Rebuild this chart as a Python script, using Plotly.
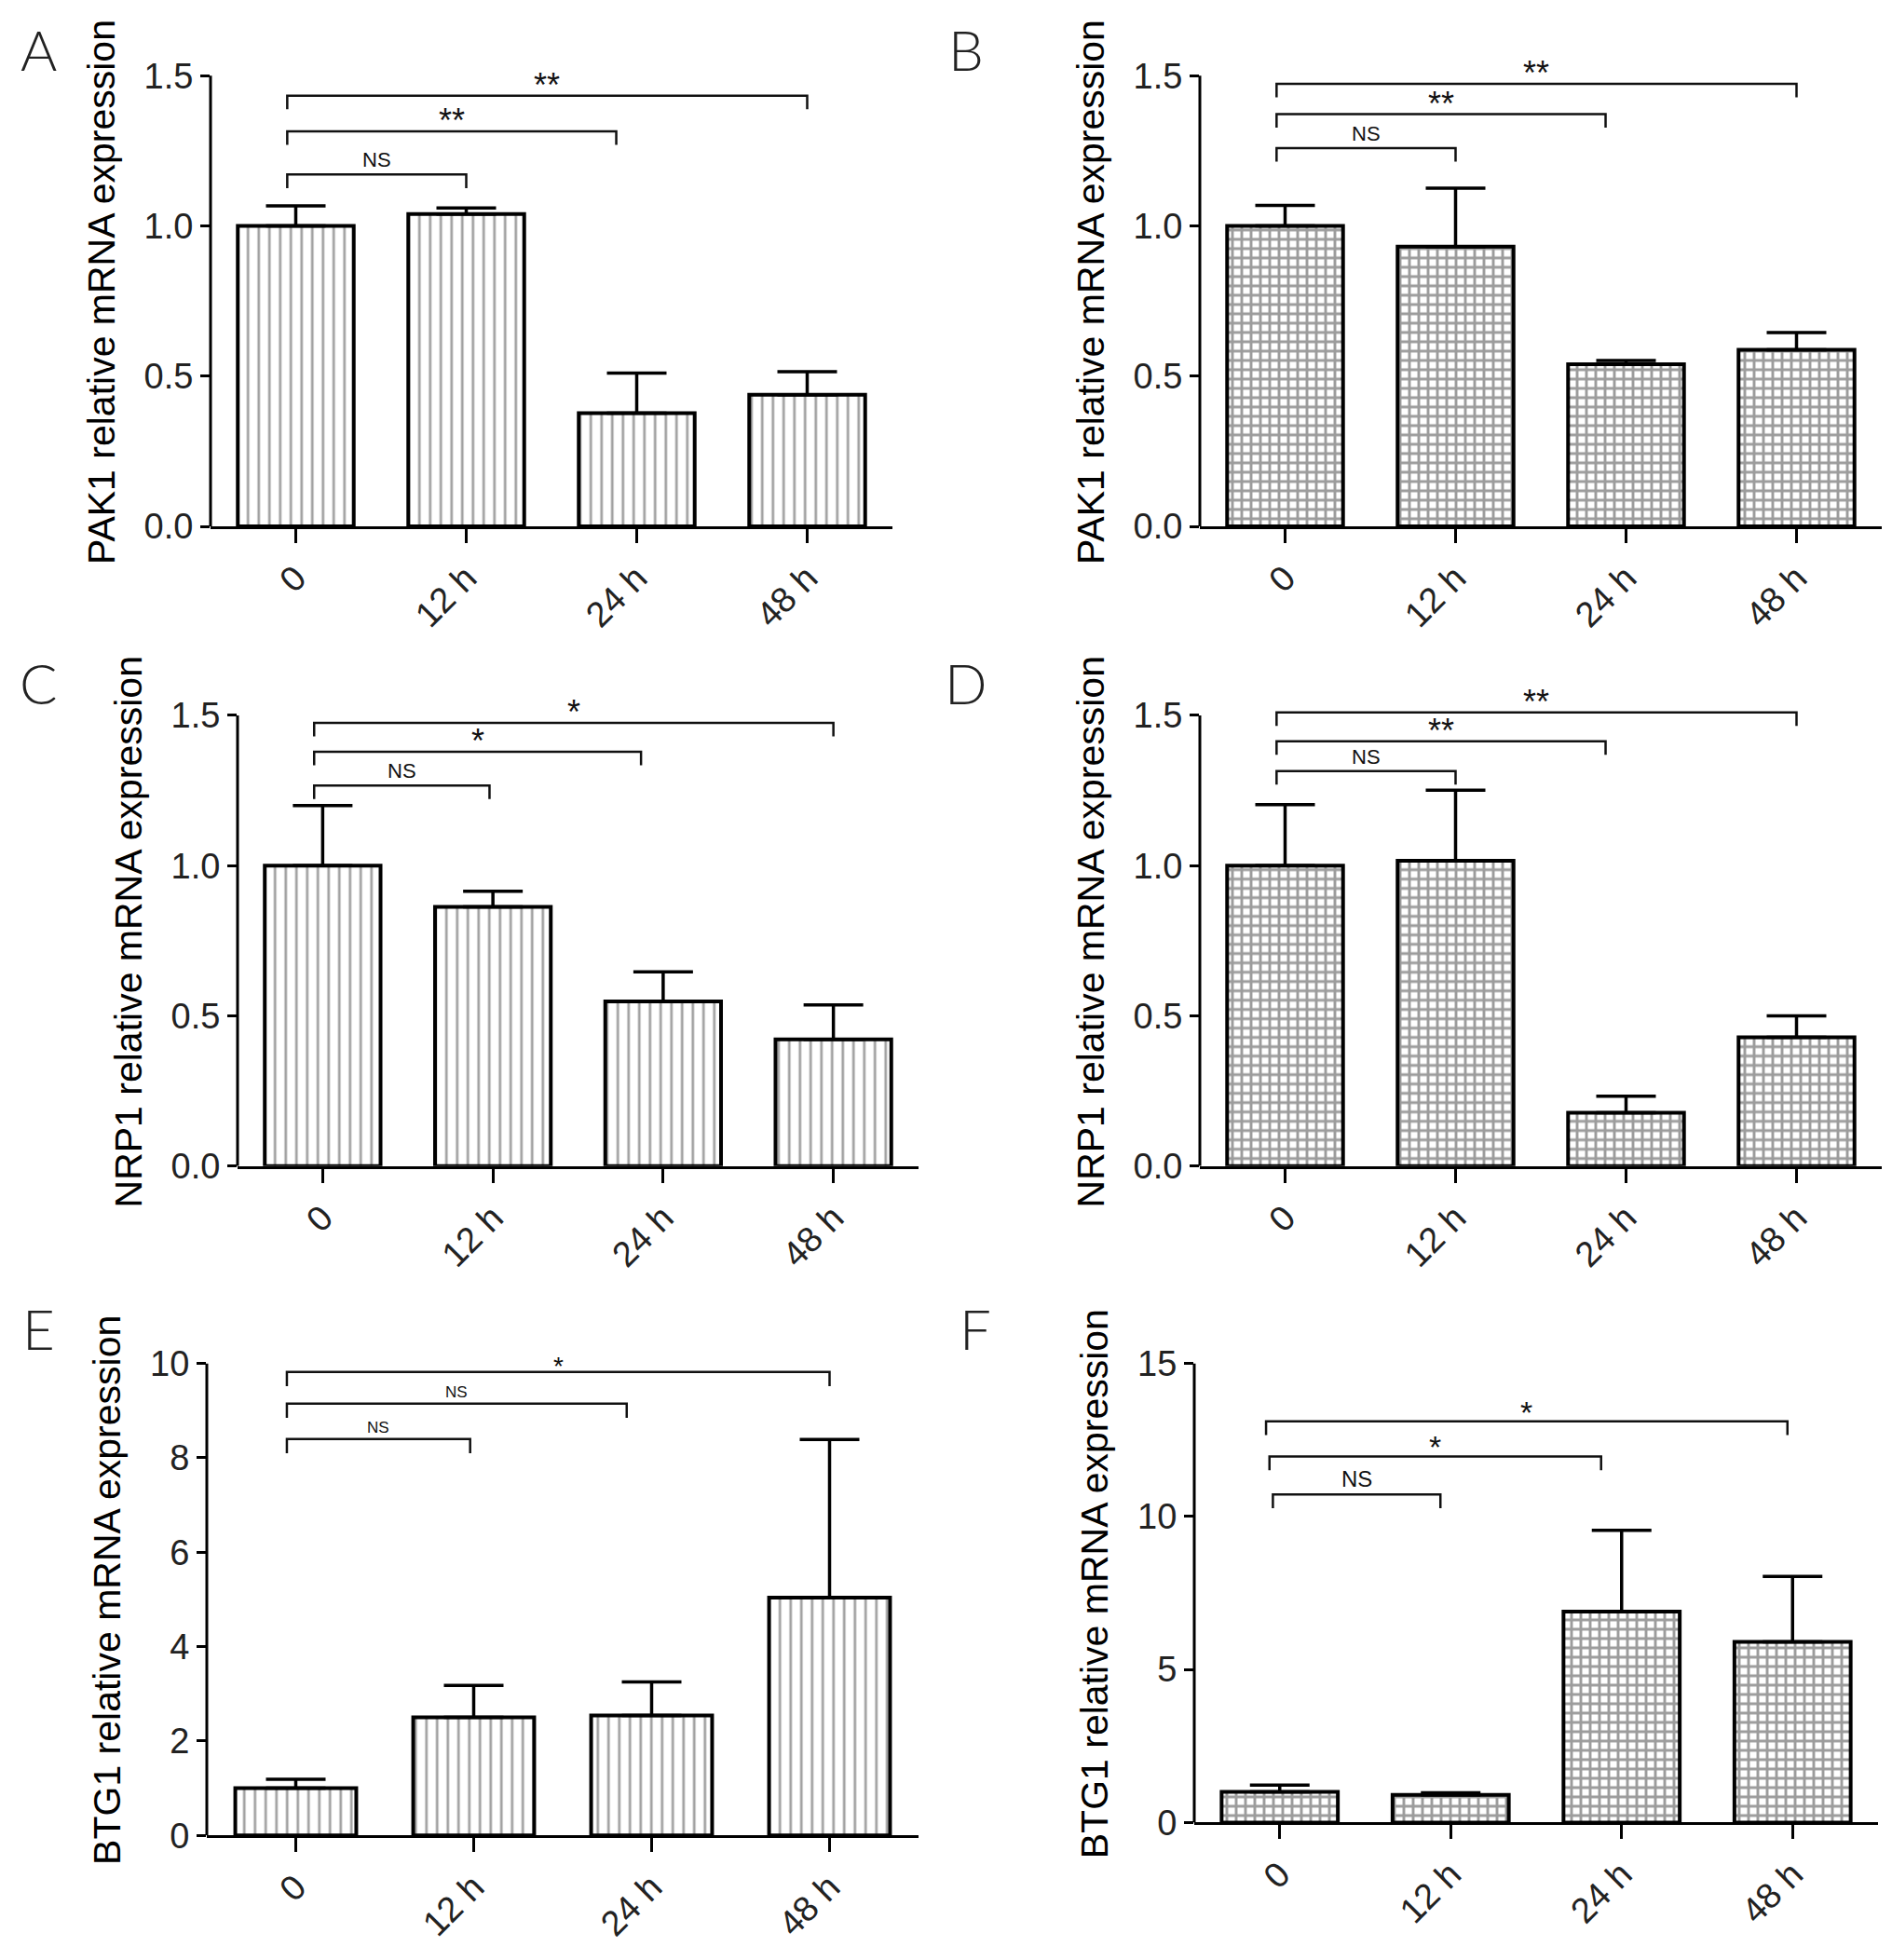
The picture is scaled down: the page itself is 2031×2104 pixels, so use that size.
import plotly.graph_objects as go

W, H = 2031, 2104

categories = ['0', '12 h', '24 h', '48 h']

# mean and upper SD
pak1_a = [1.00, 1.04, 0.377, 0.438]
pak1_a_sd = [0.067, 0.02, 0.133, 0.077]
pak1_b = [1.00, 0.931, 0.54, 0.588]
pak1_b_sd = [0.068, 0.195, 0.012, 0.057]
nrp1_c = [1.00, 0.863, 0.548, 0.422]
nrp1_c_sd = [0.20, 0.052, 0.099, 0.115]
nrp1_d = [1.00, 1.016, 0.178, 0.429]
nrp1_d_sd = [0.203, 0.235, 0.055, 0.071]
btg1_e = [1.00, 2.50, 2.54, 5.04]
btg1_e_sd = [0.19, 0.68, 0.71, 3.35]
btg1_f = [1.00, 0.905, 6.89, 5.90]
btg1_f_sd = [0.22, 0.065, 2.66, 2.14]

# significance brackets: (from, to, height, label)
sig_a = [(-0.05, 1.0, 1.171, 'NS'), (-0.05, 1.88, 1.315, '**'), (-0.05, 3.0, 1.433, '**')]
sig_b = [(-0.05, 1.0, 1.259, 'NS'), (-0.05, 1.88, 1.372, '**'), (-0.05, 3.0, 1.473, '**')]
sig_c = [(-0.05, 0.98, 1.267, 'NS'), (-0.05, 1.87, 1.379, '*'), (-0.05, 3.0, 1.475, '*')]
sig_d = [(-0.05, 1.0, 1.315, 'NS'), (-0.05, 1.88, 1.414, '**'), (-0.05, 3.0, 1.51, '**')]
sig_e = [(-0.05, 0.98, 8.40, 'NS'), (-0.05, 1.86, 9.15, 'NS'), (-0.05, 3.0, 9.82, '*')]
sig_f = [(-0.04, 0.94, 10.72, 'NS'), (-0.06, 1.88, 11.96, '*'), (-0.08, 2.97, 13.11, '*')]

panels = [
    dict(letter='A', y=pak1_a, sd=pak1_a_sd, sig=sig_a, title='PAK1 relative mRNA expression',
         ymax=1.5, dtick=0.5, fmt='.1f', fill='stripe', box=(218, 950, 73, 562), ns=22, star=36),
    dict(letter='B', y=pak1_b, sd=pak1_b_sd, sig=sig_b, title='PAK1 relative mRNA expression',
         ymax=1.5, dtick=0.5, fmt='.1f', fill='brick', box=(1280, 2012, 73, 562), ns=22, star=36),
    dict(letter='C', y=nrp1_c, sd=nrp1_c_sd, sig=sig_c, title='NRP1 relative mRNA expression',
         ymax=1.5, dtick=0.5, fmt='.1f', fill='stripe', box=(247, 978, 767, 1256), ns=22, star=36),
    dict(letter='D', y=nrp1_d, sd=nrp1_d_sd, sig=sig_d, title='NRP1 relative mRNA expression',
         ymax=1.5, dtick=0.5, fmt='.1f', fill='brick', box=(1280, 2012, 767, 1256), ns=22, star=36),
    dict(letter='E', y=btg1_e, sd=btg1_e_sd, sig=sig_e, title='BTG1 relative mRNA expression',
         ymax=10, dtick=2, fmt='d', fill='stripe', box=(214, 978, 1470, 1982), ns=17, star=28),
    dict(letter='F', y=btg1_f, sd=btg1_f_sd, sig=sig_f, title='BTG1 relative mRNA expression',
         ymax=15, dtick=5, fmt='d', fill='brick', box=(1274, 2008, 1470, 1968), ns=24, star=34),
]

letter_pos = {'A': (33, 44), 'B': (1029, 44), 'C': (33, 732),
              'D': (1029, 732), 'E': (33, 1432), 'F': (1039, 1432)}

patterns = {
    'stripe': dict(shape='|', size=11.5, solidity=0.24, fgcolor='#444444', bgcolor='white'),
    'brick': dict(shape='+', size=10, solidity=0.5, fgcolor='#3a3a3a', bgcolor='white'),
}

tick_font = dict(family='Liberation Sans Narrow, Liberation Sans, Arial', size=38, color='#222222')
title_font = dict(family='Liberation Sans, Arial', size=41, color='#000000')
note_font = 'Liberation Sans Narrow, Liberation Sans, Arial'

fig = go.Figure()
layout = dict(width=W, height=H, margin=dict(l=0, r=0, t=0, b=0),
              paper_bgcolor='white', plot_bgcolor='white', showlegend=False)
shapes = []
annotations = []
xpos = list(range(len(categories)))

for i, p in enumerate(panels):
    n = '' if i == 0 else str(i + 1)
    left, right, top, bottom = p['box']
    ytop = p['ymax'] * 1.04
    dom_top = bottom - (bottom - top) * 1.04
    layout['xaxis' + n] = dict(
        domain=[left / W, right / W], anchor='y' + n, range=[-0.5, 3.5],
        tickvals=xpos, ticktext=categories, tickangle=-45,
        showline=True, linewidth=3, linecolor='black', ticks='outside',
        ticklen=15, tickwidth=3, tickcolor='black', showgrid=False, zeroline=False,
        tickfont=tick_font, fixedrange=True)
    layout['yaxis' + n] = dict(
        domain=[1 - bottom / H, 1 - dom_top / H], anchor='x' + n, range=[0, ytop],
        tick0=0, dtick=p['dtick'], tickformat=p['fmt'],
        showline=False, ticks='outside', ticklen=10, tickwidth=3, tickcolor='black',
        showgrid=False, zeroline=False, tickfont=tick_font,
        title=dict(text=p['title'], font=title_font, standoff=18))
    fig.add_trace(go.Bar(
        x=xpos, y=p['y'], xaxis='x' + n, yaxis='y' + n, width=0.68,
        marker=dict(color='white', line=dict(color='black', width=4),
                    pattern=patterns[p['fill']]),
        error_y=dict(type='data', symmetric=False, array=p['sd'],
                     arrayminus=[0] * len(p['sd']), thickness=3.5, width=32, color='black')))
    # y axis line up to the last tick only
    shapes.append(dict(type='line', xref='x' + n + ' domain', yref='y' + n,
                       x0=0, x1=0, y0=0, y1=p['ymax'], line=dict(color='black', width=3)))
    drop = 0.03 * p['ymax']
    for x0, x1, yb, lab in p['sig']:
        shapes.append(dict(type='path', xref='x' + n, yref='y' + n, layer='above',
                           path=f'M {x0},{yb - drop} L {x0},{yb} L {x1},{yb} L {x1},{yb - drop}',
                           line=dict(color='#111111', width=2.5)))
        annotations.append(dict(x=(x0 + x1) / 2, y=yb, xref='x' + n, yref='y' + n,
                                text=lab, showarrow=False, yanchor='bottom',
                                yshift=1 if lab == 'NS' else -11,
                                font=dict(family=note_font, color='#111111',
                                          size=p['ns'] if lab == 'NS' else p['star'])))
    lx, ly = letter_pos[p['letter']]
    annotations.append(dict(x=lx / W, y=1 - ly / H, xref='paper', yref='paper',
                            text=p['letter'], showarrow=False, xanchor='center', yanchor='middle',
                            font=dict(family='Lato, Open Sans, sans-serif', size=60,
                                      color='#222222', weight=300)))

layout['shapes'] = shapes
layout['annotations'] = annotations
fig.update_layout(**layout)

fig.write_html('out.html')
